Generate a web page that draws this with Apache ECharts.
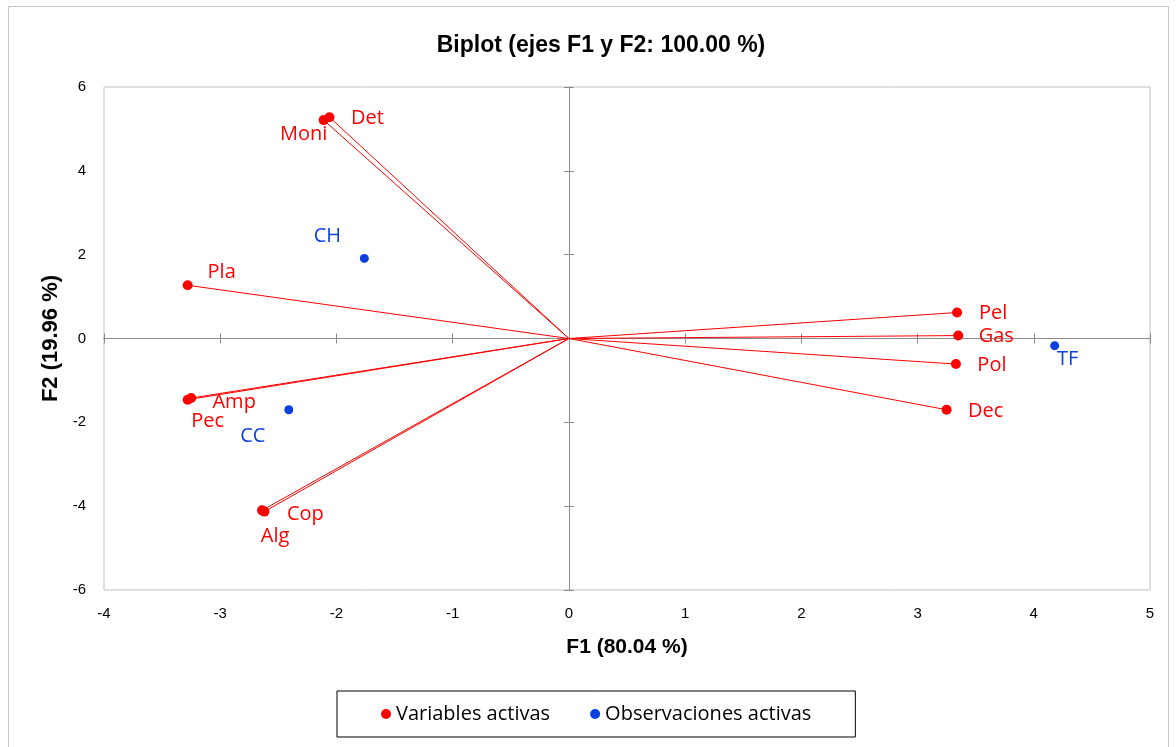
<!DOCTYPE html>
<html><head><meta charset="utf-8">
<script src="https://cdn.jsdelivr.net/npm/echarts@6/dist/echarts.min.js"></script>
<style>html,body{margin:0;padding:0;background:#fff}#c{width:1176px;height:747px}</style>
</head><body><div id="c"></div>
<script>
// Active variables (F1, F2)
const varNames = ['Moni','Det','Pla','Amp','Pec','Cop','Alg','Pel','Gas','Pol','Dec'];
const varF1 = [-2.11,-2.06,-3.28,-3.25,-3.28,-2.62,-2.64,3.34,3.35,3.33,3.25];
const varF2 = [5.21,5.28,1.27,-1.42,-1.46,-4.13,-4.10,0.62,0.07,-0.61,-1.70];
// Active observations
const obsNames = ['CH','CC','TF'];
const obsF1 = [-1.76,-2.41,4.18];
const obsF2 = [1.91,-1.70,-0.17];
// Axis ticks
const xTicks = [-4,-3,-2,-1,0,1,2,3,4,5];
const yTicks = [-6,-4,-2,0,2,4,6];

// label offsets (presentation only)
const varOff = {Moni:[-20,14],Det:[38,1],Pla:[34,-13],Amp:[43,4],Pec:[20,22],Cop:[41,3],Alg:[13,26],Pel:[36,1],Gas:[38,1],Pol:[36,1],Dec:[39,2]};
const obsOff = {CH:[-37,-22],CC:[-36,27],TF:[13,14]};

const RED = '#FF0000', BLUE = '#0A3FE0';
const chart = echarts.init(document.getElementById('c'));
const tickLbl = {color:'#000', fontFamily:'Liberation Sans', fontSize:15};
const zeroX = (inside)=>({type:'value', min:xTicks[0], max:xTicks[xTicks.length-1], interval:1, position:'bottom',
      axisLine:{show:true, onZero:true, lineStyle:{color:'#8c8c8c'}},
      axisTick:{show:true, length:5, inside:inside, lineStyle:{color:'#8c8c8c'}},
      axisLabel:{show:false}, splitLine:{show:false}});
const zeroY = (inside)=>({type:'value', min:yTicks[0], max:yTicks[yTicks.length-1], interval:2, position:'left',
      axisLine:{show:true, onZero:true, lineStyle:{color:'#8c8c8c'}},
      axisTick:{show:true, length:5, inside:inside, lineStyle:{color:'#8c8c8c'}},
      axisLabel:{show:false}, splitLine:{show:false}});
const lblStyle = (n, off, col)=>({show:true, position:'inside', offset:off[n], formatter:n, color:col, opacity:1,
          fontFamily:'Open Sans', fontSize:20, align:'center', verticalAlign:'middle'});
chart.setOption({
  animation:false,
  title:{text:'Biplot (ejes F1 y F2: 100.00 %)', left:596, top:29, textAlign:'center',
    textStyle:{fontFamily:'Liberation Sans', fontWeight:'bold', fontSize:23, color:'#000'}},
  graphic:[{type:'rect', shape:{x:8.5,y:6.5,width:1160,height:745}, style:{fill:'none', stroke:'#c8c8c8', lineWidth:1}}],
  grid:{left:104, right:26, top:87, bottom:157, show:true, borderColor:'#bfbfbf', borderWidth:1},
  legend:{bottom:10, left:337, data:['Variables activas','Observaciones activas'],
    icon:'circle', itemWidth:10, itemHeight:10, itemGap:40,
    padding:[13,44,13,44], borderColor:'#000', borderWidth:1, borderRadius:0,
    textStyle:{fontFamily:'Open Sans', fontSize:20, color:'#000'}},
  xAxis:[{type:'value', min:xTicks[0], max:xTicks[xTicks.length-1], interval:1, position:'bottom',
      axisLine:{show:false, onZero:false}, axisTick:{show:false}, splitLine:{show:false},
      axisLabel:Object.assign({margin:16}, tickLbl),
      name:'F1 (80.04 %)', nameLocation:'middle', nameGap:47,
      nameTextStyle:{fontFamily:'Liberation Sans', fontWeight:'bold', fontSize:21, color:'#000'}},
    zeroX(false), zeroX(true)],
  yAxis:[{type:'value', min:yTicks[0], max:yTicks[yTicks.length-1], interval:2,
      axisLine:{show:false, onZero:false}, axisTick:{show:false}, splitLine:{show:false},
      axisLabel:Object.assign({margin:18}, tickLbl),
      name:'F2 (19.96 %)', nameLocation:'middle', nameGap:42, nameRotate:90,
      nameTextStyle:{fontFamily:'Liberation Sans', fontWeight:'bold', fontSize:22, color:'#000'}},
    zeroY(false), zeroY(true)],
  series:[
    {type:'lines', coordinateSystem:'cartesian2d', xAxisIndex:0, yAxisIndex:0, silent:true,
      lineStyle:{color:RED, width:1, opacity:1},
      data: varNames.map((n,i)=>({coords:[[0,0],[varF1[i],varF2[i]]]}))},
    {name:'Variables activas', type:'scatter', xAxisIndex:0, yAxisIndex:0, symbolSize:10, itemStyle:{color:RED, opacity:1},
      data: varNames.map((n,i)=>({value:[varF1[i],varF2[i]], name:n, label:lblStyle(n, varOff, RED)}))},
    {name:'Observaciones activas', type:'scatter', xAxisIndex:0, yAxisIndex:0, symbolSize:9, itemStyle:{color:BLUE, opacity:1},
      data: obsNames.map((n,i)=>({value:[obsF1[i],obsF2[i]], name:n, label:lblStyle(n, obsOff, BLUE)}))}
  ]
});
</script></body></html>
